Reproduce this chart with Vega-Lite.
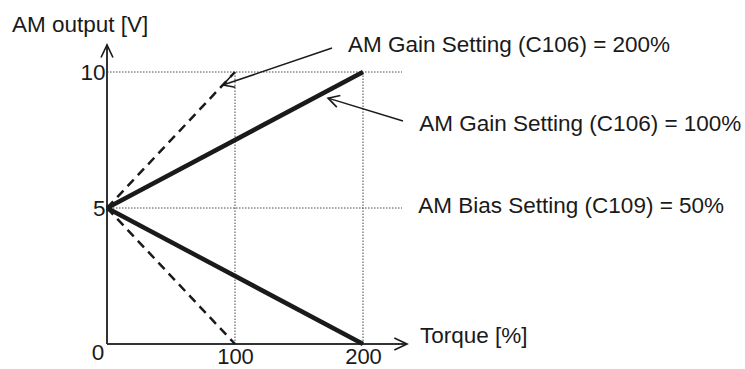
{
  "$schema": "https://vega.github.io/schema/vega-lite/v6.json",
  "width": 300,
  "height": 299.2,
  "autosize": "none",
  "padding": {"left": 107, "top": 44.8, "right": 338, "bottom": 25},
  "background": "white",
  "config": {"view": {"stroke": null}, "font": "Liberation Sans"},
  "datasets": {
    "segments": [
      {"id": "grid10", "kind": "grid", "x": 0, "y": 10, "x2": 230.5, "y2": 10},
      {"id": "grid5", "kind": "grid", "x": 0, "y": 5, "x2": 230.5, "y2": 5},
      {"id": "grid100", "kind": "grid", "x": 100, "y": 0, "x2": 100, "y2": 10},
      {"id": "grid200", "kind": "grid", "x": 200, "y": 0, "x2": 200, "y2": 10},
      {"id": "xaxis", "kind": "axis", "x": 0, "y": 0, "x2": 234.4, "y2": 0},
      {"id": "yaxis", "kind": "axis", "x": 0, "y": 0, "x2": 0, "y2": 11},
      {"id": "gain100_up", "kind": "solid", "x": 0, "y": 5, "x2": 200, "y2": 10},
      {"id": "gain100_down", "kind": "solid", "x": 0, "y": 5, "x2": 200, "y2": 0},
      {"id": "gain200_up", "kind": "dashed", "x": 0, "y": 5, "x2": 100, "y2": 10},
      {"id": "gain200_down", "kind": "dashed", "x": 0, "y": 5, "x2": 100, "y2": 0},
      {"id": "ptr200", "kind": "pointer", "x": 175.8, "y": 10.88, "x2": 90.6, "y2": 9.52},
      {"id": "ptr100", "kind": "pointer", "x": 231.25, "y": 8.2, "x2": 172.7, "y2": 9.04}
    ],
    "heads": [
      {"id": "xaxis", "x": 234.4, "y": 0},
      {"id": "yaxis", "x": 0, "y": 11},
      {"id": "ptr200", "x": 90.6, "y": 9.52},
      {"id": "ptr100", "x": 172.7, "y": 9.04}
    ],
    "labels": [
      {"text": "AM output [V]", "x": -74.2, "y": 11.46},
      {"text": "AM Gain Setting (C106) = 200%", "x": 188.3, "y": 10.746},
      {"text": "AM Gain Setting (C106) = 100%", "x": 243.98, "y": 7.831},
      {"text": "AM Bias Setting (C109) = 50%", "x": 243.2, "y": 4.805},
      {"text": "Torque [%]", "x": 244.5, "y": 0.048},
      {"text": "0", "x": -11.95, "y": -0.588}
    ]
  },
  "encoding": {
    "x": {
      "field": "x", "type": "quantitative",
      "scale": {"domain": [0, 234.375], "nice": false, "zero": false},
      "axis": {"values": [100, 200], "domain": false, "ticks": false, "grid": false, "title": null,
               "labelFontSize": 22, "labelFont": "Liberation Sans", "labelPadding": 2, "labelColor": "#1a1a1a"}
    },
    "y": {
      "field": "y", "type": "quantitative",
      "scale": {"domain": [0, 11], "nice": false, "zero": false},
      "axis": {"values": [5, 10], "domain": false, "ticks": false, "grid": false, "title": null,
               "labelFontSize": 22.5, "labelFont": "Liberation Sans", "labelPadding": 2, "labelColor": "#1a1a1a"}
    }
  },
  "layer": [
    {
      "data": {"name": "segments"},
      "transform": [{"filter": "datum.kind === 'grid'"}],
      "mark": {"type": "rule", "color": "#444444", "strokeWidth": 1, "strokeDash": [1.5, 1.5]},
      "encoding": {"x2": {"field": "x2"}, "y2": {"field": "y2"}}
    },
    {
      "data": {"name": "segments"},
      "transform": [{"filter": "datum.kind === 'axis'"}],
      "mark": {"type": "rule", "color": "#333333", "strokeWidth": 2},
      "encoding": {"x2": {"field": "x2"}, "y2": {"field": "y2"}}
    },
    {
      "data": {"name": "segments"},
      "transform": [{"filter": "datum.kind === 'dashed'"}],
      "mark": {"type": "rule", "color": "#1a1a1a", "strokeWidth": 2.5, "strokeDash": [9, 6]},
      "encoding": {"x2": {"field": "x2"}, "y2": {"field": "y2"}}
    },
    {
      "data": {"name": "segments"},
      "transform": [{"filter": "datum.kind === 'solid'"}],
      "mark": {"type": "rule", "color": "#1a1a1a", "strokeWidth": 4.5},
      "encoding": {"x2": {"field": "x2"}, "y2": {"field": "y2"}}
    },
    {
      "data": {"name": "segments"},
      "transform": [{"filter": "datum.kind === 'pointer'"}],
      "mark": {"type": "rule", "color": "#1a1a1a", "strokeWidth": 1.5},
      "encoding": {"x2": {"field": "x2"}, "y2": {"field": "y2"}}
    },
    {
      "data": {"name": "heads"},
      "transform": [{"filter": "datum.id === 'xaxis'"}],
      "mark": {"type": "point", "shape": "M -1 -0.47 L 0 0 L -1 0.47", "filled": false, "stroke": "#1a1a1a", "strokeWidth": 1.6, "size": 645, "angle": 0, "opacity": 1}
    },
    {
      "data": {"name": "heads"},
      "transform": [{"filter": "datum.id === 'yaxis'"}],
      "mark": {"type": "point", "shape": "M -1 -0.47 L 0 0 L -1 0.47", "filled": false, "stroke": "#1a1a1a", "strokeWidth": 1.6, "size": 645, "angle": 270, "opacity": 1}
    },
    {
      "data": {"name": "heads"},
      "transform": [{"filter": "datum.id === 'ptr200'"}],
      "mark": {"type": "point", "shape": "M -1 -0.55 L 0 0 L -1 0.55", "filled": false, "stroke": "#1a1a1a", "strokeWidth": 1.6, "size": 484, "angle": 161, "opacity": 1}
    },
    {
      "data": {"name": "heads"},
      "transform": [{"filter": "datum.id === 'ptr100'"}],
      "mark": {"type": "point", "shape": "M -1 -0.55 L 0 0 L -1 0.55", "filled": false, "stroke": "#1a1a1a", "strokeWidth": 1.6, "size": 484, "angle": 197, "opacity": 1}
    },
    {
      "data": {"name": "labels"},
      "mark": {"type": "text", "align": "left", "baseline": "alphabetic", "fontSize": 22.5, "font": "Liberation Sans", "color": "#1a1a1a"},
      "encoding": {"text": {"field": "text"}}
    }
  ]
}
